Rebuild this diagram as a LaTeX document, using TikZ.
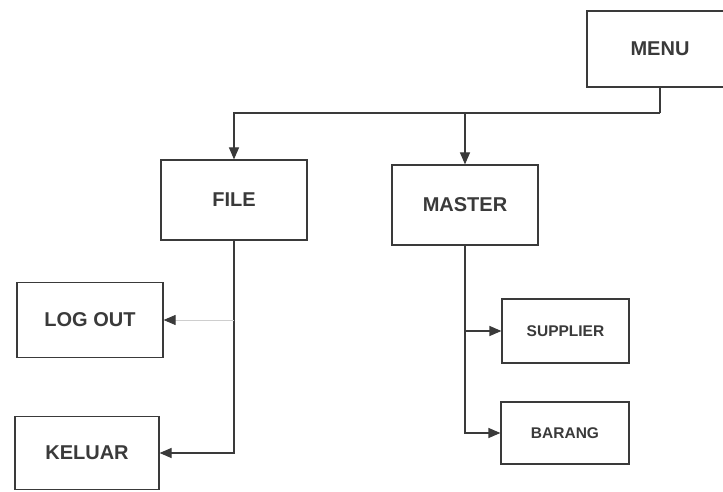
\documentclass[tikz,border=0pt]{standalone}
\usepackage{fontspec}
\setmainfont{Liberation Sans}
\usetikzlibrary{arrows.meta}
\definecolor{ink}{HTML}{3A3A3A}
\tikzset{
  box/.style={draw=ink, line width=1.2pt, inner sep=0pt, text=ink, font=\bfseries\fontsize{20}{22}\selectfont},
  smallbox/.style={box, font=\bfseries\fontsize{15.5}{18}\selectfont},
  conn/.style={draw=ink, line width=1.2pt, -{Triangle[length=12pt,width=10pt,color=ink]}},
  plain/.style={draw=ink, line width=1.2pt},
  faint/.style={draw=ink!25, line width=1pt, -{Triangle[length=12pt,width=10pt,color=ink]}}
}
\begin{document}
\begin{tikzpicture}[x=1pt,y=-1pt]
\useasboundingbox (0,0) rectangle (723,492);
\fill[white] (0,0) rectangle (723,492);
\node[box, minimum width=146pt, minimum height=76pt] (menu) at (660,49) {MENU};
\node[box, minimum width=146pt, minimum height=80pt] (file) at (234,200) {FILE};
\node[box, minimum width=146pt, minimum height=80pt] (master) at (465,205) {MASTER};
\node[box, minimum width=146pt, minimum height=75pt] (logout) at (90,320) {LOG OUT};
\node[box, minimum width=144pt, minimum height=73pt] (keluar) at (87,453) {KELUAR};
\node[smallbox, minimum width=127pt, minimum height=64pt] (supplier) at (565.5,331) {SUPPLIER};
\node[smallbox, minimum width=128pt, minimum height=62pt] (barang) at (565,433) {BARANG};
\coordinate (j1) at (660,113);
\draw[plain] (menu.south) -- (j1);
\draw[conn] (j1) -| (file.north);
\draw[conn] (master.north |- j1) -- (master.north);
\draw[conn] (file.south) |- (keluar.east);
\draw[faint] (file.south |- logout.east) -- (logout.east);
\draw[conn] (master.south) |- (barang.west);
\draw[conn] (master.south |- supplier.west) -- (supplier.west);
\end{tikzpicture}
\end{document}
